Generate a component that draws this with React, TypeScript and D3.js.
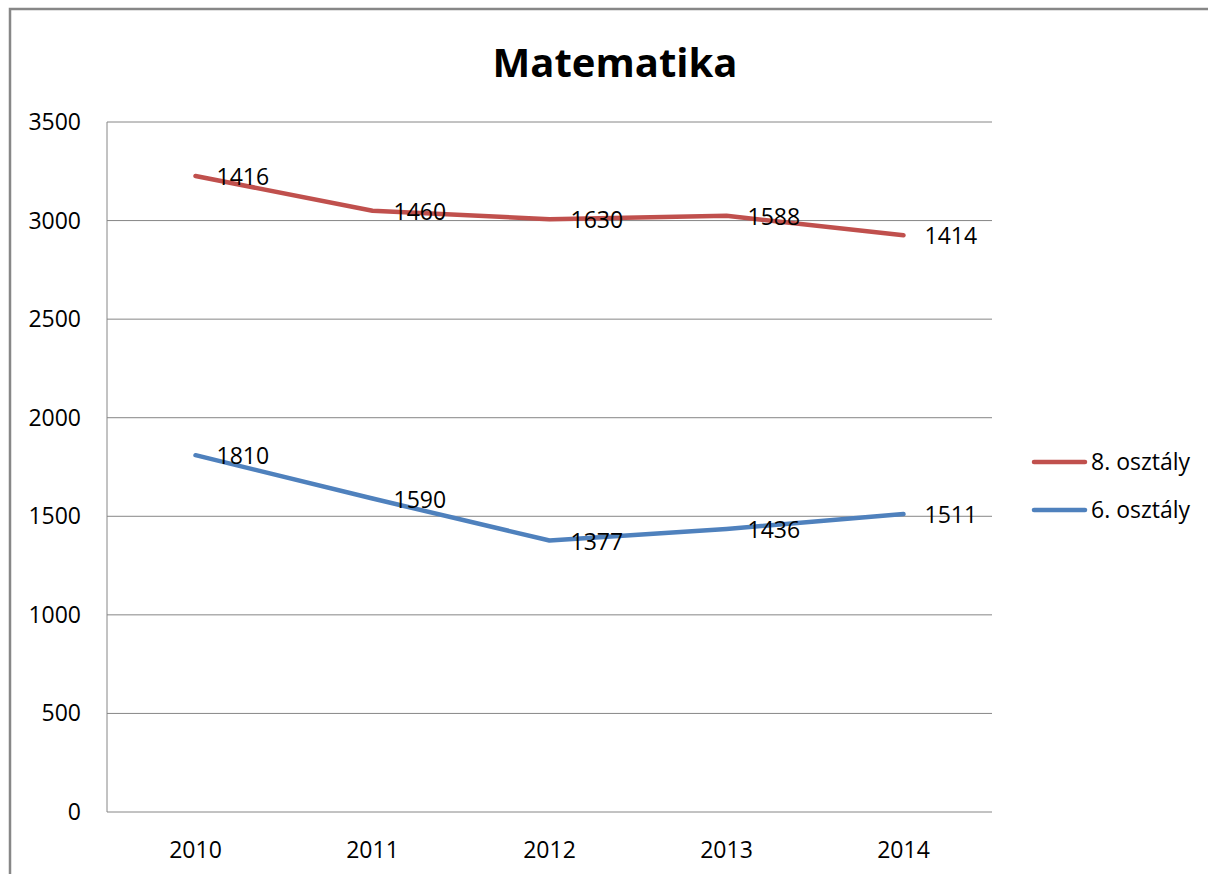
import * as React from "react";
import * as d3 from "d3";

const years = ["2010", "2011", "2012", "2013", "2014"];
const grade6 = [1810, 1590, 1377, 1436, 1511];
const grade8 = [1416, 1460, 1630, 1588, 1414];
const yTicks = [0, 500, 1000, 1500, 2000, 2500, 3000, 3500];
const seriesNames = ["8. osztály", "6. osztály"];
const seriesColors = ["#C0504D", "#4F81BD"];

const FONT = "'Open Sans', 'DejaVu Sans', sans-serif";
const FS = 23;

export default function App() {
  const width = 1208;
  const height = 874;
  const plot = { left: 107, right: 992, top: 122, bottom: 812 };

  const x = d3.scaleBand().domain(years).range([plot.left, plot.right]);
  const y = d3.scaleLinear().domain([0, 3500]).range([plot.bottom, plot.top]);

  // stacked line chart: 8. osztály sits on top of 6. osztály
  const stacked = years.map((_, i) => grade6[i] + grade8[i]);

  const line = d3
    .line<number>()
    .x((_, i) => (x(years[i]) as number) + x.bandwidth() / 2)
    .y((d) => y(d));

  const series = [
    { name: seriesNames[0], color: seriesColors[0], top: stacked, labels: grade8 },
    { name: seriesNames[1], color: seriesColors[1], top: grade6, labels: grade6 },
  ];

  return (
    <div style={{ position: "absolute", left: 0, top: 0 }}>
      <svg width={width} height={height} style={{ display: "block" }}>
        <rect x={0} y={0} width={width} height={height} fill="#fff" />
        <rect x={10} y={9} width={1300} height={1000} fill="none" stroke="#878787" strokeWidth={2.5} />

        <text x={615} y={77} textAnchor="middle" fontFamily={FONT} fontWeight="bold" fontSize={40} fill="#000">
          Matematika
        </text>

        {yTicks.map((t) => (
          <g key={t}>
            <line x1={plot.left} x2={plot.right} y1={y(t)} y2={y(t)} stroke="#868686" strokeWidth={1} />
            <text x={81} y={y(t)} dy="0.35em" textAnchor="end" fontFamily={FONT} fontSize={FS} fill="#000">
              {t}
            </text>
          </g>
        ))}
        <line x1={plot.left} x2={plot.left} y1={plot.top} y2={plot.bottom} stroke="#868686" strokeWidth={1} />

        {years.map((yr) => (
          <text
            key={yr}
            x={(x(yr) as number) + x.bandwidth() / 2}
            y={850}
            dy="0.35em"
            textAnchor="middle"
            fontFamily={FONT}
            fontSize={FS}
            fill="#000"
          >
            {yr}
          </text>
        ))}

        {series.map((s) => (
          <g key={s.name}>
            <path d={line(s.top) ?? ""} fill="none" stroke={s.color} strokeWidth={4.5} strokeLinejoin="round" strokeLinecap="round" />
            {s.top.map((v, i) => (
              <text
                key={i}
                x={(x(years[i]) as number) + x.bandwidth() / 2 + 21}
                y={y(v) + 1}
                dy="0.35em"
                fontFamily={FONT}
                fontSize={FS}
                fill="#000"
              >
                {s.labels[i]}
              </text>
            ))}
          </g>
        ))}

        {series.map((s, i) => (
          <g key={s.name} transform={`translate(1034, ${462 + i * 48})`}>
            <line x1={0} x2={51} y1={0} y2={0} stroke={s.color} strokeWidth={4.5} strokeLinecap="round" />
            <text x={57} y={0} dy="0.35em" fontFamily={FONT} fontSize={FS} fill="#000">
              {s.name}
            </text>
          </g>
        ))}
      </svg>
    </div>
  );
}
